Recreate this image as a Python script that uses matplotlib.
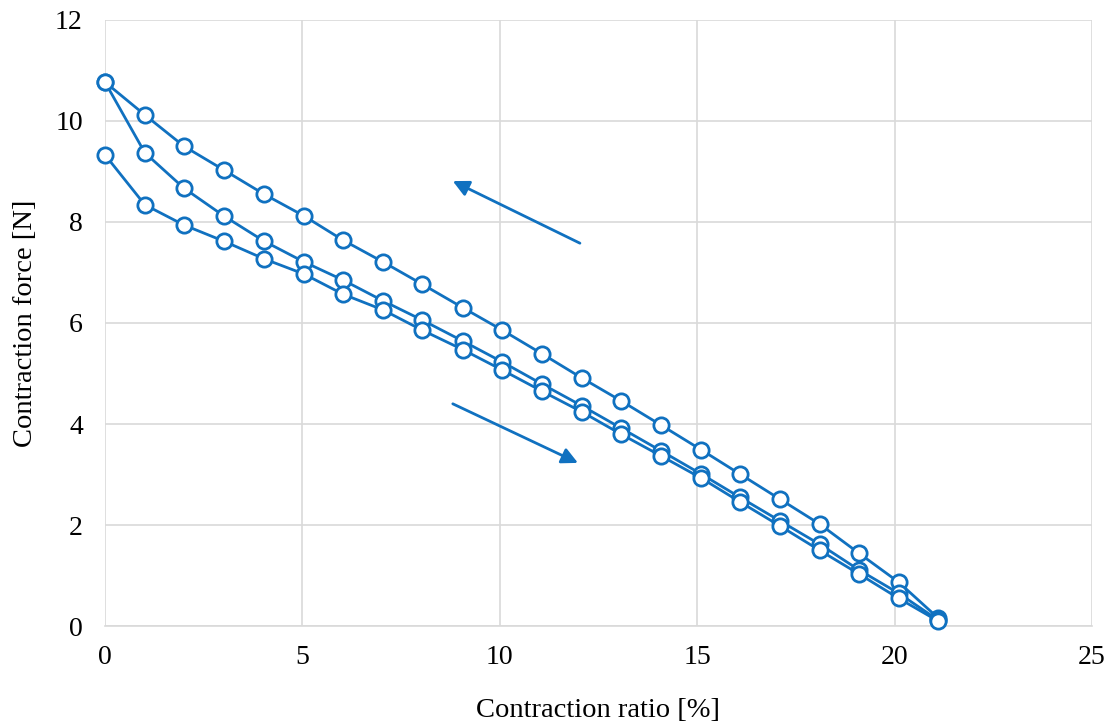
import matplotlib
matplotlib.use("Agg")
import matplotlib.pyplot as plt
import numpy as np

# contraction ratio [%] at each measurement step
ratio = [0.0, 1.01, 2.0, 3.01, 4.03, 5.04, 6.03, 7.04, 8.03, 9.07, 10.06,
         11.07, 12.08, 13.07, 14.08, 15.1, 16.08, 17.1, 18.1, 19.1, 20.1, 21.1]

# contraction force [N] for the three loops
force_top = [10.77, 10.12, 9.50, 9.03, 8.55, 8.12, 7.64, 7.21, 6.77, 6.30, 5.86,
             5.39, 4.91, 4.46, 3.98, 3.49, 3.01, 2.51, 2.02, 1.44, 0.87, 0.16]
force_mid = [10.77, 9.37, 8.67, 8.12, 7.62, 7.21, 6.85, 6.44, 6.06, 5.64, 5.23,
             4.79, 4.36, 3.92, 3.47, 3.01, 2.55, 2.08, 1.62, 1.11, 0.65, 0.12]
force_low = [9.33, 8.34, 7.94, 7.62, 7.27, 6.97, 6.57, 6.26, 5.86, 5.47, 5.07,
             4.65, 4.24, 3.80, 3.37, 2.93, 2.46, 1.98, 1.50, 1.03, 0.55, 0.10]

blue = "#1071C0"

plt.rcParams["font.family"] = ["Liberation Serif", "DejaVu Serif"]

fig = plt.figure(figsize=(11.12, 7.26), dpi=100)
ax = fig.add_axes([0.0944, 0.1377, 0.8876, 0.8348])

for f in (force_top, force_mid, force_low):
    ax.plot(ratio, f, color=blue, lw=2, marker="o", ms=11,
            mfc="white", mec=blue, mew=2, zorder=3, clip_on=False)

# direction arrows
ax.annotate("", xy=(8.81, 8.81), xytext=(12.03, 7.58),
            arrowprops=dict(arrowstyle="-|>", color=blue, lw=2,
                            mutation_scale=24, shrinkA=0, shrinkB=0))
ax.annotate("", xy=(11.98, 3.23), xytext=(8.81, 4.40),
            arrowprops=dict(arrowstyle="-|>", color=blue, lw=2,
                            mutation_scale=24, shrinkA=0, shrinkB=0))

ax.set_xlim(0, 25)
ax.set_ylim(0, 12)
ax.set_xticks(np.arange(0, 26, 5))
ax.set_yticks(np.arange(0, 13, 2))
ax.grid(True, color="#D9D9D9", lw=1.2)
ax.set_axisbelow(True)
for s in ("top", "right", "left"):
    ax.spines[s].set_visible(False)
ax.spines["bottom"].set_color("#D9D9D9")
ax.spines["bottom"].set_linewidth(1.2)
ax.tick_params(length=0, labelsize=20)
ax.tick_params(axis="x", pad=14)
ax.tick_params(axis="y", pad=16)

ax.set_xlabel("Contraction ratio [%]", fontsize=20.5, labelpad=20)
ax.set_ylabel("Contraction force [N]", fontsize=20.5, labelpad=12)

fig.savefig("out.png", dpi=100)
